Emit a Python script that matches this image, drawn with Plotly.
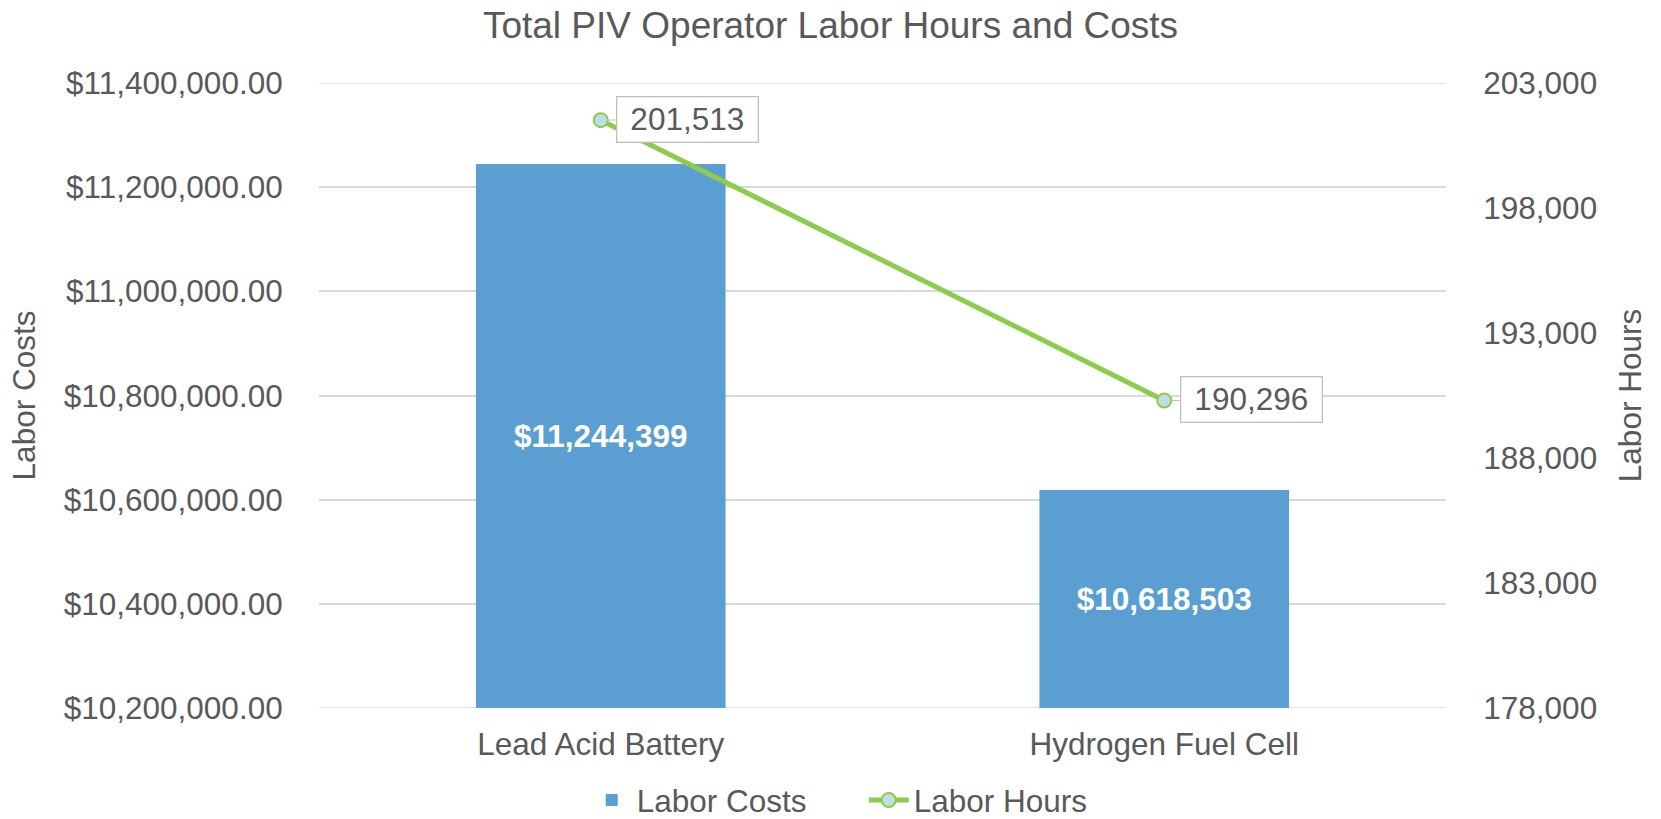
import plotly.graph_objects as go

categories = ["Lead Acid Battery", "Hydrogen Fuel Cell"]
labor_costs = [11244399, 10618503]
labor_hours = [201513, 190296]

cost_min, cost_max, cost_step = 10200000, 11400000, 200000
hours_min, hours_max, hours_step = 178000, 203000, 5000

FONT = "Liberation Sans, Arial, sans-serif"
GREY = "#595959"
GRID = "#D9D9D9"
FS = 31.5

fig = go.Figure()

fig.add_trace(go.Bar(
    x=categories,
    y=[v - cost_min for v in labor_costs],
    base=cost_min,
    name="Labor Costs",
    marker=dict(color="#5B9FD2", line=dict(width=0)),
    text=["${:,.0f}".format(v) for v in labor_costs],
    textposition="inside",
    insidetextanchor="middle",
    textfont=dict(family=FONT, size=FS, color="white", weight="bold"),
))

fig.add_trace(go.Scatter(
    x=categories,
    y=labor_hours,
    name="Labor Hours",
    yaxis="y2",
    mode="lines+markers",
    line=dict(color="#8DCB4A", width=5),
    marker=dict(size=14, color="#BFDDE6", line=dict(color="#8DCB4A", width=2)),
))

for c, h in zip(categories, labor_hours):
    fig.add_annotation(
        x=c, y=h, xref="x", yref="y2",
        text="{:,.0f}".format(h),
        showarrow=True, arrowhead=0, arrowwidth=1, arrowcolor="#BFBFBF",
        standoff=6, ax=87, ay=-1,
        font=dict(family=FONT, size=FS, color=GREY),
        bgcolor="white", bordercolor="#BFBFBF", borderwidth=1.3,
        width=140, height=44, borderpad=0,
    )

# gridlines at the two range edges (Plotly omits them)
for yv in (cost_min, cost_max):
    fig.add_shape(type="line", xref="paper", x0=0, x1=1, yref="y", y0=yv, y1=yv,
                  line=dict(color=GRID, width=1.5), layer="below")

fig.update_layout(
    width=1661, height=819,
    paper_bgcolor="white", plot_bgcolor="white",
    margin=dict(l=319, r=215, t=83, b=111, autoexpand=False),
    font=dict(family=FONT, size=FS, color=GREY),
    title=dict(text="Total PIV Operator Labor Hours and Costs",
               x=0.5, xref="container", xanchor="center",
               y=1 - 25 / 819, yref="container", yanchor="middle",
               font=dict(family=FONT, size=37, color=GREY)),
    bargap=0.557,
    showlegend=True,
    legend=dict(orientation="h", x=0.520, xref="container", xanchor="center",
                y=19 / 819, yref="container", yanchor="middle",
                font=dict(family=FONT, size=FS, color=GREY),
                entrywidth=222, entrywidthmode="pixels",
                itemwidth=40, tracegroupgap=0),
    xaxis=dict(showgrid=False, showline=False, zeroline=False, automargin=False,
               ticks="outside", ticklen=8, tickcolor="rgba(0,0,0,0)",
               tickfont=dict(family=FONT, size=FS, color=GREY),
               range=[-0.5, 1.5]),
    yaxis=dict(title=dict(text="Labor Costs", standoff=18,
                          font=dict(family=FONT, size=FS, color=GREY)),
               range=[cost_min, cost_max], dtick=cost_step, tick0=cost_min,
               tickprefix="$", tickformat=",.2f", automargin=False,
               showgrid=True, gridcolor=GRID, gridwidth=1.5,
               zeroline=False, showline=False,
               ticks="outside", ticklen=29, tickcolor="rgba(0,0,0,0)",
               tickfont=dict(family=FONT, size=FS, color=GREY)),
    yaxis2=dict(title=dict(text="Labor Hours", standoff=22,
                           font=dict(family=FONT, size=FS, color=GREY)),
                overlaying="y", side="right", automargin=False,
                range=[hours_min, hours_max], dtick=hours_step, tick0=hours_min,
                tickformat=",", showgrid=False, zeroline=False, showline=False,
                ticks="outside", ticklen=30, tickcolor="rgba(0,0,0,0)",
                tickfont=dict(family=FONT, size=FS, color=GREY)),
)

fig.write_html("out.html", config={"displayModeBar": False},
               post_script="document.body.style.margin='0';")
